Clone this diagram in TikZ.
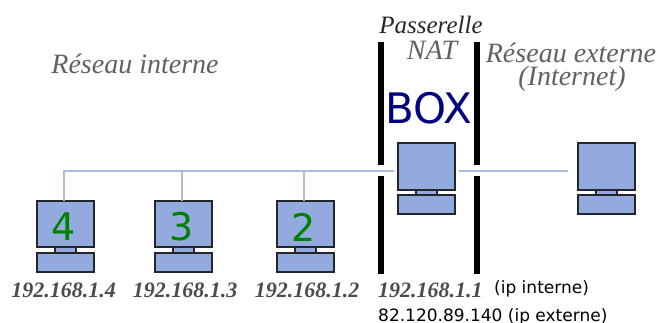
\documentclass[tikz,border=0pt]{standalone}
\usepackage{fontspec}
\setmainfont{DejaVu Sans}
\newfontfamily\handfont{Liberation Serif}[ItalicFont={Liberation Serif Italic}]
\usepackage{tikz}
\usetikzlibrary{positioning}
\definecolor{lanblue}{RGB}{170,188,224}
\definecolor{pcblue}{RGB}{146,170,222}
\definecolor{pcline}{RGB}{35,38,45}
\tikzset{
  lan/.style={draw=lanblue,line width=2.7pt},
  wall/.style={line width=6pt,black},
  screen/.style={draw=pcline,fill=pcblue,line width=2pt,minimum width=57.5pt,minimum height=46.5pt,inner sep=0pt,outer sep=0pt},
  stand/.style={draw=pcline,fill=pcblue,line width=1.6pt,minimum width=21pt,minimum height=5.5pt,inner sep=0pt,outer sep=0pt},
  base/.style={draw=pcline,fill=pcblue,line width=2pt,minimum width=57.5pt,minimum height=19pt,inner sep=0pt,outer sep=0pt},
  hand/.style={font=\handfont\itshape\fontsize{#1}{#1}\selectfont,text=black!62,inner sep=0pt},
  ipnum/.style={font=\handfont\itshape\bfseries\fontsize{22}{22}\selectfont,text=black!70,inner sep=0pt},
  plain/.style={font=\fontsize{17}{17}\selectfont,inner sep=0pt},
  num/.style={font=\fontsize{38}{38}\selectfont,text={rgb,255:red,0;green,128;blue,0}}
}
\begin{document}
\begin{tikzpicture}[x=1pt,y=-1pt]

    % Cadre de l'image
    \useasboundingbox (0,0) rectangle (658,322);

    % Les postes du reseau interne
    \node[screen] (s4) at (65.5,224) {};
    \node[stand,below=0pt of s4] (p4) {};
    \node[base,below=0pt of p4] (b4) {};
    \node[screen] (s3) at (183.5,224) {};
    \node[stand,below=0pt of s3] (p3) {};
    \node[base,below=0pt of p3] (b3) {};
    \node[screen] (s2) at (305.5,224) {};
    \node[stand,below=0pt of s2] (p2) {};
    \node[base,below=0pt of p2] (b2) {};

    % La passerelle et le poste externe
    \node[screen] (box) at (426.5,166.5) {};
    \node[stand,below=0pt of box] (pbox) {};
    \node[base,below=0pt of pbox] (bbox) {};
    \node[screen] (ext) at (606.5,166.5) {};
    \node[stand,below=0pt of ext] (pext) {};
    \node[base,below=0pt of pext] (bext) {};

    % Les chiffres et BOX
    \node[num] (n4) at (64,227) {4};
    \node[num] (n3) at (182,227) {3};
    \node[num] (n2) at (304,227) {2};
    \node[font=\fontsize{42}{42}\selectfont,text={rgb,255:red,0;green,0;blue,128},inner sep=0pt] (boxtxt) at (429,108) {BOX};

    % Les liaisons
    \coordinate (busend) at (394,171);
    \coordinate (extstart) at (459,171);
    \coordinate (extend) at (568,171);
    \draw[lan] ([xshift=-1.5pt]s4.north) |- (busend);
    \draw[lan] ([xshift=-1.5pt]s3.north) -- ([xshift=-1.5pt]s3.north |- busend);
    \draw[lan] ([xshift=-1.5pt]s2.north) -- ([xshift=-1.5pt]s2.north |- busend);
    \draw[lan] (extstart) -- (extend);

    % Les murs de la passerelle
    \draw[wall] (381,42) -- (381,165);
    \draw[wall] (381,176) -- (381,274);
    \draw[wall] (477,42) -- (477,165);
    \draw[wall] (477,176) -- (477,274);

    % Les textes
    \node[hand=28] (lanlab) at (135,64) {Réseau interne};
    \node[hand=25,text=black!85] (gwlab) at (431,25) {Passerelle};
    \node[hand=28] (natlab) at (432,50) {NAT};
    \node[hand=28] (wanlab) at (571,53) {Réseau externe};
    \node[hand=28] (netlab) at (572,79) {(Internet)};
    \node[ipnum] (ip4) at (63.5,290) {192.168.1.4};
    \node[ipnum] (ip3) at (185,290) {192.168.1.3};
    \node[ipnum] (ip2) at (307,290) {192.168.1.2};
    \node[ipnum,anchor=west] (ip1) at (378,290) {192.168.1.1};
    \node[plain,anchor=west] (ipint) at (494,289) {(ip interne)};
    \node[plain,anchor=base west] (ipext) at (378,321) {82.120.89.140 (ip externe)};

\end{tikzpicture}
\end{document}
